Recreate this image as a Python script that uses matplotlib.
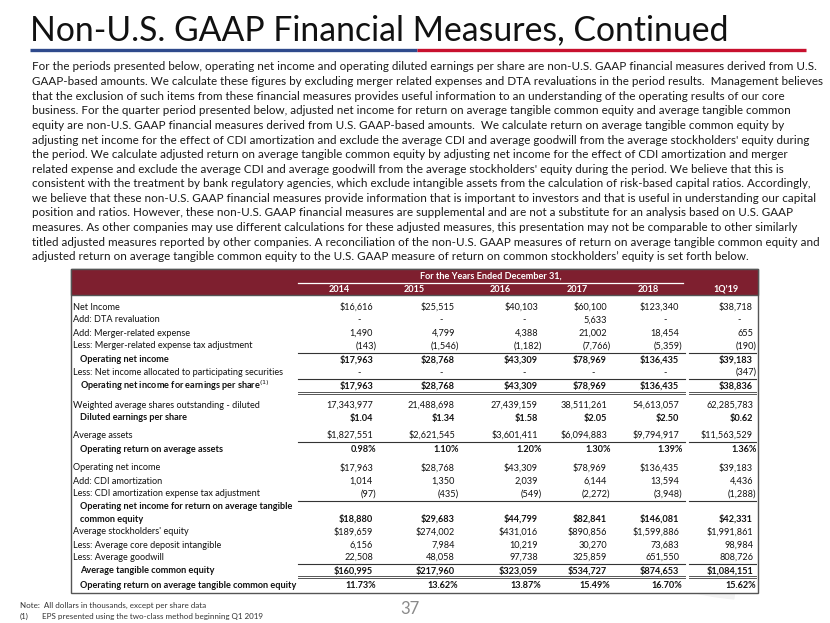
import matplotlib
matplotlib.use("Agg")
import matplotlib.pyplot as plt
from matplotlib.patches import Rectangle, Wedge

W, H = 830, 623
FONT = "Lato"

# --- texte
title = "Non-U.S. GAAP Financial Measures, Continued"
intro_lines = [
    "For the periods presented below, operating net income and operating diluted earnings per share are non-U.S. GAAP financial measures derived from U.S.",
    "GAAP-based amounts. We calculate these figures by excluding merger related expenses and DTA revaluations in the period results.  Management believes",
    "that the exclusion of such items from these financial measures provides useful information to an understanding of the operating results of our core",
    "business. For the quarter period presented below, adjusted net income for return on average tangible common equity and average tangible common",
    "equity are non-U.S. GAAP financial measures derived from U.S. GAAP-based amounts.  We calculate return on average tangible common equity by",
    "adjusting net income for the effect of CDI amortization and exclude the average CDI and average goodwill from the average stockholders' equity during",
    "the period. We calculate adjusted return on average tangible common equity by adjusting net income for the effect of CDI amortization and merger",
    "related expense and exclude the average CDI and average goodwill from the average stockholders' equity during the period. We believe that this is",
    "consistent with the treatment by bank regulatory agencies, which exclude intangible assets from the calculation of risk-based capital ratios. Accordingly,",
    "we believe that these non-U.S. GAAP financial measures provide information that is important to investors and that is useful in understanding our capital",
    "position and ratios. However, these non-U.S. GAAP financial measures are supplemental and are not a substitute for an analysis based on U.S. GAAP",
    "measures. As other companies may use different calculations for these adjusted measures, this presentation may not be comparable to other similarly",
    "titled adjusted measures reported by other companies. A reconciliation of the non-U.S. GAAP measures of return on average tangible common equity and",
    "adjusted return on average tangible common equity to the U.S. GAAP measure of return on common stockholders\u2019 equity is set forth below.",
]
header = "For the Years Ended December 31,"
years = ["2014", "2015", "2016", "2017", "2018", "1Q'19"]
note = "Note:  All dollars in thousands, except per share data"
footnote = "EPS presented using the two-class method beginning Q1 2019"
page = "37"

# --- données (milliers de $, sauf par action)
net_income = [16616, 25515, 40103, 60100, 123340, 38718]
dta_revaluation = [None, None, None, 5633, None, None]
merger_expense = [1490, 4799, 4388, 21002, 18454, 655]
merger_tax_adj = [-143, -1546, -1182, -7766, -5359, -190]
operating_ni = [17963, 28768, 43309, 78969, 136435, 39183]
ni_participating = [None, None, None, None, None, -347]
operating_ni_eps = [17963, 28768, 43309, 78969, 136435, 38836]
wavg_shares = [17343977, 21488698, 27439159, 38511261, 54613057, 62285783]
diluted_eps = [1.04, 1.34, 1.58, 2.05, 2.50, 0.62]
avg_assets = [1827551, 2621545, 3601411, 6094883, 9794917, 11563529]
op_roaa = [0.98, 1.10, 1.20, 1.30, 1.39, 1.36]
cdi_amort = [1014, 1350, 2039, 6144, 13594, 4436]
cdi_tax_adj = [-97, -435, -549, -2272, -3948, -1288]
operating_ni_tce = [18880, 29683, 44799, 82841, 146081, 42331]
avg_equity = [189659, 274002, 431016, 890856, 1599886, 1991861]
avg_cdi = [6156, 7984, 10219, 30270, 73683, 98984]
avg_goodwill = [22508, 48058, 97738, 325859, 651550, 808726]
avg_tce = [160995, 217960, 323059, 534727, 874653, 1084151]
op_rotce = [11.73, 13.62, 13.87, 15.49, 16.70, 15.62]

rows = [
    ("Net Income", net_income, "$", False),
    ("Add: DTA revaluation", dta_revaluation, "n", False),
    ("Add: Merger-related expense", merger_expense, "n", False),
    ("Less: Merger-related expense tax adjustment", merger_tax_adj, "n", False),
    ("Operating net income", operating_ni, "$", True),
    ("Less: Net income allocated to participating securities", ni_participating, "n", False),
    ("Operating net income for earnings per share$^{(1)}$", operating_ni_eps, "$", True),
    ("Weighted average shares outstanding - diluted", wavg_shares, "n", False),
    ("Diluted earnings per share", diluted_eps, "eps", True),
    ("Average assets", avg_assets, "$", False),
    ("Operating return on average assets", op_roaa, "pct", True),
    ("Operating net income", operating_ni, "$", False),
    ("Add: CDI amortization", cdi_amort, "n", False),
    ("Less: CDI amortization expense tax adjustment", cdi_tax_adj, "n", False),
    ("Operating net income for return on average tangible\ncommon equity", operating_ni_tce, "$", True),
    ("Average stockholders' equity", avg_equity, "$", False),
    ("Less: Average core deposit intangible", avg_cdi, "n", False),
    ("Less: Average goodwill", avg_goodwill, "n", False),
    ("Average tangible common equity", avg_tce, "$", True),
    ("Operating return on average tangible common equity", op_rotce, "pct", True),
]


def fmt(v, kind):
    if v is None:
        return "-"
    if kind == "eps":
        return f"${v:.2f}"
    if kind == "pct":
        return f"{v:.2f}%"
    s = f"{abs(v):,}"
    if kind == "$":
        s = "$" + s
    return f"({s})" if v < 0 else s


fig = plt.figure(figsize=(W / 100, H / 100), dpi=100)
ax = fig.add_axes([0, 0, 1, 1])
ax.set_xlim(0, W)
ax.set_ylim(H, 0)
ax.axis("off")
renderer = fig.canvas.get_renderer()


def fit_size(s, width, weight="normal"):
    t = ax.text(0, 0, s, fontsize=10, family=FONT, weight=weight)
    w = t.get_window_extent(renderer).width
    t.remove()
    return 10 * width / w


# filigrane gris clair
ax.add_patch(Wedge((760, 300), 300, 95, 175, width=70, color="#f3f3f3", zorder=0))
ax.add_patch(Wedge((560, 700), 330, 20, 80, width=60, color="#f3f3f3", zorder=0))

# titre + filet bleu / rouge
ax.text(30, 40, title, fontsize=fit_size(title, 697), family=FONT,
        color="#111111", va="baseline")
ax.plot([30, 417], [50, 50], color="#2F4A8C", lw=2.4, solid_capstyle="butt")
ax.plot([417, 806], [50, 50], color="#C8102E", lw=2.4, solid_capstyle="butt")

# paragraphe
fs_par = fit_size(intro_lines[8], 776)
for i, line in enumerate(intro_lines):
    ax.text(32, 67 + i * 14.6, line, fontsize=fs_par, family=FONT,
            color="#1a1a1a", va="center")

# tableau
left, right, top, bottom = 71, 758, 269, 593
ax.add_patch(Rectangle((left, top), right - left, bottom - top, facecolor="white",
                       edgecolor="#555555", lw=1.0, zorder=1))
ax.add_patch(Rectangle((left, top), right - left, 26, facecolor="#7E1F2F",
                       edgecolor="#555555", lw=1.0, zorder=2))

fs_tab = fit_size("Less: Net income allocated to participating securities", 212)
year_x = [339, 414, 500, 577, 648, 726]
col_right = [373, 455, 538, 607, 679, 753]
spans = [(298, 685), (689, 756)]

ax.text(491, 276, header, fontsize=fs_tab, family=FONT, weight="bold",
        color="white", ha="center", va="center", zorder=3)
ax.plot([298, 683], [282.5, 282.5], color="white", lw=0.9, zorder=3)
for x, yr in zip(year_x, years):
    ax.text(x, 289, yr, fontsize=fs_tab, family=FONT, weight="bold",
            color="white", ha="center", va="center", zorder=3)

row_y = [307, 320, 333, 346, 359.5, 372.5, 385.5, 405, 418, 435, 450,
         468, 481, 494, 519, 532, 545, 557.5, 570.5, 585]
for (label, vals, kind, bold), y in zip(rows, row_y):
    w = "bold" if bold else "normal"
    lx = 80 if bold else 73
    if "\n" in label:
        l1, l2 = label.split("\n")
        ax.text(lx, y - 12.5, l1, fontsize=fs_tab, family=FONT, weight=w,
                color="#111111", va="center", zorder=3)
        label = l2
    ax.text(lx, y, label, fontsize=fs_tab, family=FONT, weight=w,
            color="#111111", va="center", zorder=3)
    for xr, v in zip(col_right, vals):
        s = fmt(v, kind)
        if s == "-":
            xr -= 12
        elif s.endswith(")") or s.endswith("%"):
            xr += 3.5
        ax.text(xr, y, s, fontsize=fs_tab, family=FONT, weight=w,
                color="#111111", ha="right", va="center", zorder=3)

# filets simples et doubles
for y in [353, 379, 442, 500.5, 564]:
    for a, b in spans:
        ax.plot([a, b], [y, y], color="#333333", lw=0.8, zorder=3)
for y in [393, 577]:
    for a, b in spans:
        ax.plot([a, b], [y - 1.2, y - 1.2], color="#555555", lw=0.7, zorder=3)
        ax.plot([a, b], [y + 1.2, y + 1.2], color="#555555", lw=0.7, zorder=3)

# notes de bas de page
fs_note = fit_size(note, 185)
ax.text(20, 605, note, fontsize=fs_note, family=FONT, color="#333333", va="center")
ax.text(20, 616, "(1)", fontsize=fs_note, family=FONT, color="#333333", va="center")
ax.text(42, 616, footnote, fontsize=fs_note, family=FONT, color="#333333", va="center")
ax.text(410, 609, page, fontsize=12, family=FONT, color="#8a8a8a", ha="center", va="center")

fig.savefig("out.png", dpi=100)
